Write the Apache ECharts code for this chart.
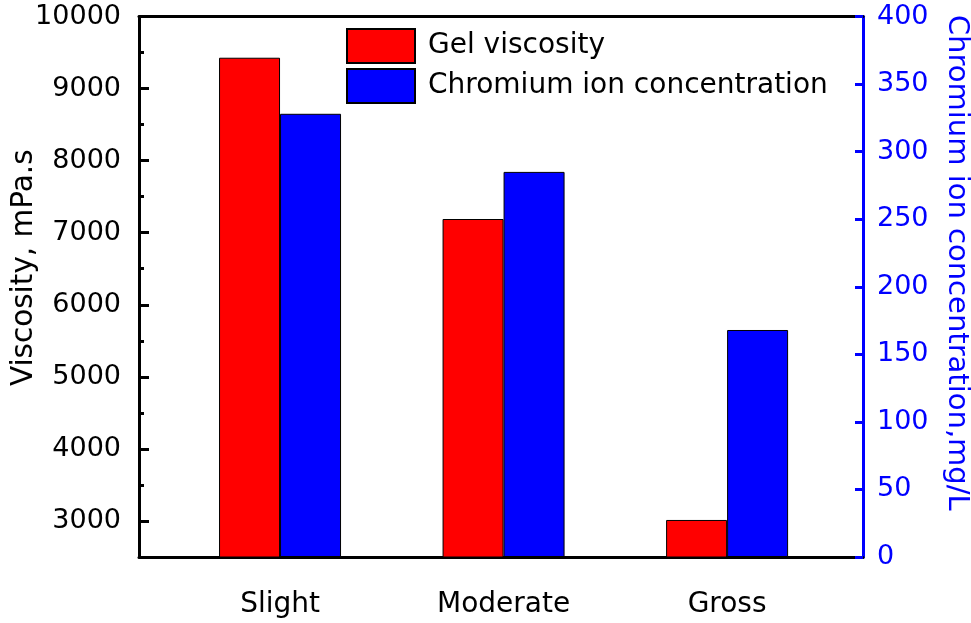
<!DOCTYPE html>
<html>
<head>
<meta charset="utf-8">
<script src="https://cdn.jsdelivr.net/npm/echarts@6/dist/echarts.min.js"></script>
<style>html,body{margin:0;padding:0;background:#fff}#c{width:971px;height:623px}</style>
</head>
<body>
<div id="c"></div>
<script>
const categories = ['Slight', 'Moderate', 'Gross'];
const categoryPos = [1, 2, 3];
const gelViscosity = [9428, 7190, 3014];
const chromiumConc = [328, 285, 168];
const leftMajorTicks = [3000, 4000, 5000, 6000, 7000, 8000, 9000, 10000];
const leftMinorTicks = [3500, 4500, 5500, 6500, 7500, 8500, 9500];

const FONT = 'DejaVu Sans';
const chart = echarts.init(document.getElementById('c'), null, {renderer: 'canvas'});
const xMin = 0.369, xMax = 3.608;
chart.setOption({
  animation: false,
  backgroundColor: '#fff',
  textStyle: {fontFamily: FONT},
  grid: {left: 139, right: 108, top: 16.5, bottom: 66, containLabel: false, outerBoundsMode: 'none'},
  legend: {
    orient: 'vertical', left: 346, top: 28, padding: 0, itemWidth: 68, itemHeight: 34, itemGap: 4,
    icon: 'rect',
    textStyle: {fontSize: 28, color: '#000', fontFamily: FONT, padding: [0, 0, 0, 8]},
    data: ['Gel viscosity', 'Chromium ion concentration']
  },
  xAxis: [{
    type: 'value', min: xMin, max: xMax, position: 'bottom',
    axisLine: {show: true, lineStyle: {color: '#000', width: 3}},
    axisTick: {show: false},
    splitLine: {show: false},
    axisLabel: {customValues: categoryPos, formatter: v => categories[Math.round(v) - 1] || '',
      fontSize: 28, color: '#000', margin: 34, fontFamily: FONT}
  }, {
    type: 'value', min: xMin, max: xMax, position: 'top',
    axisLine: {show: true, lineStyle: {color: '#000', width: 3}},
    axisTick: {show: false}, axisLabel: {show: false}, splitLine: {show: false}
  }],
  yAxis: [{
    type: 'value', min: 2500, max: 10000, position: 'left',
    name: 'Viscosity, mPa.s', nameLocation: 'middle', nameGap: 100, nameMoveOverlap: false,
    nameTextStyle: {fontSize: 29.5, color: '#000', fontFamily: FONT, padding: [0, 0, 0, 38]},
    axisLine: {show: true, lineStyle: {color: '#000', width: 3}},
    axisTick: {show: true, inside: true, length: 10, customValues: leftMajorTicks, lineStyle: {color: '#000', width: 3}},
    axisLabel: {customValues: leftMajorTicks, formatter: v => String(v), fontSize: 27, color: '#000', margin: 18, fontFamily: FONT},
    splitLine: {show: false}
  }, {
    type: 'value', min: 0, max: 400, interval: 50, position: 'right',
    name: 'Chromium ion concentration,mg/L', nameLocation: 'middle', nameGap: 79, nameRotate: -90,
    nameTextStyle: {fontSize: 29, color: '#0000ff', fontFamily: FONT, padding: [0, 48, 0, 0]},
    axisLine: {show: true, lineStyle: {color: '#0000ff', width: 3}},
    axisTick: {show: true, inside: true, length: 8, lineStyle: {color: '#0000ff', width: 3}},
    axisLabel: {formatter: v => String(v), fontSize: 27, color: '#0000ff', margin: 14, fontFamily: FONT},
    splitLine: {show: false}
  }, {
    type: 'value', min: 2500, max: 10000, position: 'left',
    axisLine: {show: false},
    axisTick: {show: true, inside: true, length: 5, customValues: leftMinorTicks, lineStyle: {color: '#000', width: 3}},
    axisLabel: {show: false},
    splitLine: {show: false}
  }],
  series: [{
    name: 'Gel viscosity', type: 'bar', xAxisIndex: 0, yAxisIndex: 0,
    barWidth: 61, barGap: '0%',
    itemStyle: {color: '#ff0000', borderColor: '#000', borderWidth: 1},
    data: categoryPos.map((p, i) => [p, gelViscosity[i]])
  }, {
    name: 'Chromium ion concentration', type: 'bar', xAxisIndex: 0, yAxisIndex: 1,
    barWidth: 61, barGap: '0%',
    itemStyle: {color: '#0000ff', borderColor: '#000', borderWidth: 1},
    data: categoryPos.map((p, i) => [p, chromiumConc[i]])
  }]
});
</script>
</body>
</html>
